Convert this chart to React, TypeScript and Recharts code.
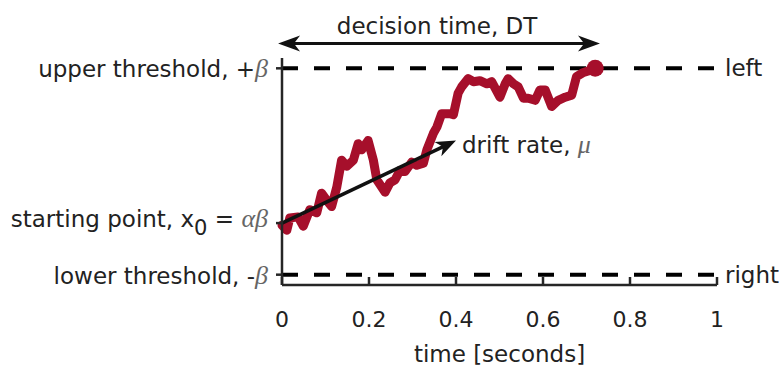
import { LineChart, Line, XAxis, YAxis, ReferenceLine, ReferenceDot } from "recharts";

const times = [
  0, 0.011, 0.018, 0.037, 0.049, 0.064, 0.08, 0.091, 0.103, 0.114, 0.126, 0.137, 0.149, 0.164, 0.175,
  0.183, 0.198, 0.21, 0.218, 0.237, 0.248, 0.26, 0.271, 0.283, 0.298, 0.31, 0.325, 0.333, 0.348, 0.356,
  0.367, 0.386, 0.394, 0.405, 0.413, 0.428, 0.44, 0.455, 0.471, 0.482, 0.501, 0.513, 0.52, 0.532, 0.543,
  0.555, 0.566, 0.582, 0.593, 0.605, 0.62, 0.635, 0.651, 0.666, 0.677, 0.693, 0.708, 0.72,
];
const evidence = [
  -0.52, -0.57, -0.45, -0.44, -0.53, -0.37, -0.4, -0.21, -0.28, -0.34, -0.15, 0.11, 0.05, 0.11, 0.27,
  0.21, 0.3, 0.11, -0.08, -0.2, -0.11, -0.08, 0.01, 0, 0.09, 0.06, 0.08, 0.21, 0.37, 0.43,
  0.56, 0.56, 0.55, 0.76, 0.82, 0.9, 0.87, 0.88, 0.85, 0.87, 0.72, 0.85, 0.9, 0.85, 0.82,
  0.71, 0.71, 0.69, 0.79, 0.79, 0.63, 0.69, 0.72, 0.74, 0.92, 0.96, 0.98, 1.0,
];
const xTicks = [0, 0.2, 0.4, 0.6, 0.8, 1];
const yTicks = [-1, -0.5, 1];
const upper = 1;
const lower = -1;
const start = -0.5;
const decisionTime = 0.72;
const driftEnd = { t: 0.4, v: 0.3 };
const dtSpan = [-0.009, 0.731];
const dtLevel = 1.24;

const data = times.map((t, i) => ({ t, v: evidence[i] }));

const RED = "#a60f2b";
const INK = "#222";
const AXIS = "#262626";
const SANS = "DejaVu Sans, sans-serif";
const GREEK = { fontFamily: "Liberation Serif, serif", fontStyle: "italic" as const, fill: "#666", fontSize: 26 };

function headPoints(x: number, y: number, ang: number, len: number, half: number) {
  const c = Math.cos(ang);
  const s = Math.sin(ang);
  const pt = (u: number, w: number) => `${x + u * c - w * s},${y + u * s + w * c}`;
  return [pt(0, 0), pt(-len, half), pt(-len * 0.72, 0), pt(-len, -half)].join(" ");
}

function DoubleArrow(p: any) {
  const { x1, y1, x2, y2 } = p;
  const ang = Math.atan2(y2 - y1, x2 - x1);
  return (
    <g>
      <line x1={x1 + 8} y1={y1} x2={x2 - 8} y2={y2} stroke="#111" strokeWidth={3} />
      <polygon points={headPoints(x2, y2, ang, 22, 8)} fill="#111" />
      <polygon points={headPoints(x1, y1, ang + Math.PI, 22, 8)} fill="#111" />
      <text x={(x1 + x2) / 2 - 2} y={y1 - 10} textAnchor="middle" fontFamily={SANS} fontSize={23} fill={INK}>
        decision time, DT
      </text>
    </g>
  );
}

function DriftArrow(p: any) {
  const { x1, y1, x2, y2 } = p;
  const ang = Math.atan2(y2 - y1, x2 - x1);
  return (
    <g>
      <line x1={x1} y1={y1} x2={x2 - 10 * Math.cos(ang)} y2={y2 - 10 * Math.sin(ang)} stroke="#111" strokeWidth={3.5} />
      <polygon points={headPoints(x2, y2, ang, 20, 8)} fill="#111" />
      <text x={x2 + 6} y={y2 + 12} fontFamily={SANS} fontSize={23} fill={INK}>
        drift rate, <tspan {...GREEK}>μ</tspan>
      </text>
    </g>
  );
}

function YTick(p: any) {
  const { x, y, payload } = p;
  const v = payload.value;
  if (v === upper) {
    return (
      <text x={x} y={y + 9} textAnchor="end" fontFamily={SANS} fontSize={23} fill={INK}>
        upper threshold, +<tspan {...GREEK}>β</tspan>
      </text>
    );
  }
  if (v === lower) {
    return (
      <text x={x} y={y + 9} textAnchor="end" fontFamily={SANS} fontSize={23} fill={INK}>
        lower threshold, -<tspan {...GREEK}>β</tspan>
      </text>
    );
  }
  return (
    <text x={x} y={y + 4} textAnchor="end" fontFamily={SANS} fontSize={23} fill={INK}>
      starting point, x<tspan dy={8} fontSize={21}>0</tspan>
      <tspan dy={-8}> = </tspan>
      <tspan {...GREEK}>αβ</tspan>
    </text>
  );
}

function XTick(p: any) {
  const { x, payload } = p;
  return (
    <g>
      <line x1={x} y1={285} x2={x} y2={277} stroke={AXIS} strokeWidth={2.5} />
      <text x={x} y={327} textAnchor="middle" fontFamily={SANS} fontSize={22} fill={INK}>
        {String(payload.value)}
      </text>
    </g>
  );
}

export default function App() {
  return (
    <div style={{ position: "absolute", left: 0, top: 0, width: 781, height: 369, background: "#fff" }}>
      <LineChart width={781} height={369} data={data} margin={{ top: 58, right: 64, bottom: 0, left: 0 }}>
        <XAxis
          type="number"
          dataKey="t"
          domain={[0, 1]}
          ticks={xTicks}
          height={84}
          stroke={AXIS}
          strokeWidth={2.5}
          tickLine={false}
          tick={<XTick />}
          label={{
            content: (lp: any) => (
              <text
                x={lp.viewBox.x + lp.viewBox.width / 2}
                y={362}
                textAnchor="middle"
                fontFamily={SANS}
                fontSize={23}
                fill={INK}
              >
                time [seconds]
              </text>
            ),
          }}
        />
        <YAxis
          type="number"
          domain={[-1.1, 1.1]}
          ticks={yTicks}
          width={282}
          stroke={AXIS}
          strokeWidth={2.5}
          tickSize={6}
          tickMargin={8}
          tick={<YTick />}
          interval={0}
        />
        <ReferenceLine
          y={upper}
          stroke="#000"
          strokeWidth={4}
          strokeDasharray="16 16"
          label={{ value: "left", position: "right", offset: 8, fill: INK, fontSize: 23, fontFamily: SANS }}
        />
        <ReferenceLine
          y={lower}
          stroke="#000"
          strokeWidth={4}
          strokeDasharray="16 16"
          label={{ value: "right", position: "right", offset: 8, fill: INK, fontSize: 23, fontFamily: SANS }}
        />
        <Line
          dataKey="v"
          type="linear"
          stroke={RED}
          strokeWidth={9}
          strokeLinejoin="round"
          strokeLinecap="round"
          dot={false}
          activeDot={false}
          isAnimationActive={false}
        />
        <ReferenceDot x={decisionTime} y={upper} r={8.5} fill={RED} stroke="none" ifOverflow="visible" />
        <ReferenceLine
          segment={[
            { x: 0, y: start },
            { x: driftEnd.t, y: driftEnd.v },
          ]}
          ifOverflow="visible"
          shape={<DriftArrow />}
        />
        <ReferenceLine
          segment={[
            { x: dtSpan[0], y: dtLevel },
            { x: dtSpan[1], y: dtLevel },
          ]}
          ifOverflow="visible"
          shape={<DoubleArrow />}
        />
      </LineChart>
    </div>
  );
}
